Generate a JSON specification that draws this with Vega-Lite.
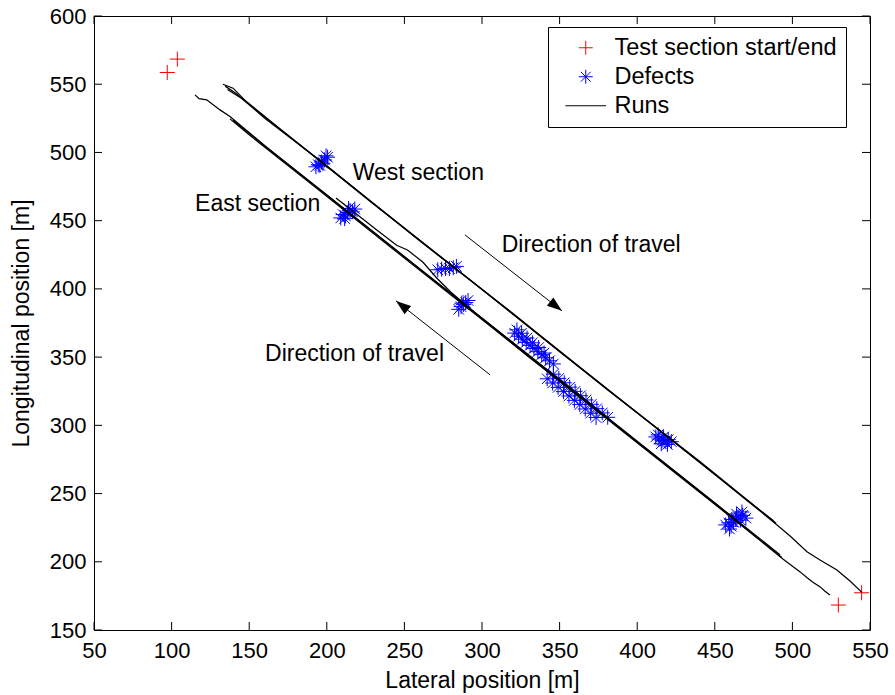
{
  "$schema": "https://vega.github.io/schema/vega-lite/v6.json",
  "width": 776,
  "height": 614,
  "autosize": {"type": "none"},
  "padding": {"left": 94, "top": 16, "right": 25, "bottom": 65},
  "background": "white",
  "config": {
    "font": "Liberation Sans",
    "view": {"stroke": "black", "strokeWidth": 1},
    "axis": {
      "domain": false,
      "ticks": false,
      "tickSize": 0,
      "grid": false,
      "labelFlush": false,
      "labelOverlap": false,
      "labelFont": "Liberation Sans",
      "labelFontSize": 22,
      "labelColor": "black",
      "titleFont": "Liberation Sans",
      "titleFontSize": 23,
      "titleFontWeight": "normal",
      "titleColor": "black"
    },
    "legend": {
      "labelFont": "Liberation Sans",
      "labelFontSize": 23.5,
      "labelColor": "black",
      "labelLimit": 400
    }
  },
  "datasets": {
    "xticks": [
      {"lat": 50}, {"lat": 100}, {"lat": 150}, {"lat": 200}, {"lat": 250}, {"lat": 300},
      {"lat": 350}, {"lat": 400}, {"lat": 450}, {"lat": 500}, {"lat": 550}
    ],
    "yticks": [
      {"lon": 150}, {"lon": 200}, {"lon": 250}, {"lon": 300}, {"lon": 350},
      {"lon": 400}, {"lon": 450}, {"lon": 500}, {"lon": 550}, {"lon": 600}
    ],
    "markers": [
      {"lat": 97.2, "lon": 558.6, "kind": "Test section start/end"},
      {"lat": 103.7, "lon": 568.4, "kind": "Test section start/end"},
      {"lat": 529.6, "lon": 168.3, "kind": "Test section start/end"},
      {"lat": 544.6, "lon": 177.3, "kind": "Test section start/end"},
      {"lat": 193.0, "lon": 489.5, "kind": "Defects"},
      {"lat": 194.5, "lon": 491.0, "kind": "Defects"},
      {"lat": 196.5, "lon": 493.0, "kind": "Defects"},
      {"lat": 198.5, "lon": 494.5, "kind": "Defects"},
      {"lat": 200.5, "lon": 496.5, "kind": "Defects"},
      {"lat": 197.5, "lon": 492.0, "kind": "Defects"},
      {"lat": 195.5, "lon": 490.5, "kind": "Defects"},
      {"lat": 199.5, "lon": 497.5, "kind": "Defects"},
      {"lat": 209.0, "lon": 452.0, "kind": "Defects"},
      {"lat": 210.5, "lon": 454.5, "kind": "Defects"},
      {"lat": 212.0, "lon": 453.5, "kind": "Defects"},
      {"lat": 213.5, "lon": 456.0, "kind": "Defects"},
      {"lat": 215.0, "lon": 457.5, "kind": "Defects"},
      {"lat": 216.5, "lon": 456.5, "kind": "Defects"},
      {"lat": 218.0, "lon": 458.5, "kind": "Defects"},
      {"lat": 211.5, "lon": 451.5, "kind": "Defects"},
      {"lat": 214.0, "lon": 459.0, "kind": "Defects"},
      {"lat": 271.5, "lon": 414.0, "kind": "Defects"},
      {"lat": 274.0, "lon": 414.5, "kind": "Defects"},
      {"lat": 276.5, "lon": 415.0, "kind": "Defects"},
      {"lat": 279.0, "lon": 415.0, "kind": "Defects"},
      {"lat": 281.5, "lon": 415.5, "kind": "Defects"},
      {"lat": 283.5, "lon": 416.5, "kind": "Defects"},
      {"lat": 285.0, "lon": 385.0, "kind": "Defects"},
      {"lat": 286.5, "lon": 387.0, "kind": "Defects"},
      {"lat": 288.0, "lon": 388.5, "kind": "Defects"},
      {"lat": 289.5, "lon": 390.0, "kind": "Defects"},
      {"lat": 291.0, "lon": 391.5, "kind": "Defects"},
      {"lat": 287.0, "lon": 389.5, "kind": "Defects"},
      {"lat": 321.0, "lon": 367.6, "kind": "Defects"},
      {"lat": 323.5, "lon": 365.3, "kind": "Defects"},
      {"lat": 326.0, "lon": 363.1, "kind": "Defects"},
      {"lat": 328.5, "lon": 360.8, "kind": "Defects"},
      {"lat": 331.0, "lon": 358.6, "kind": "Defects"},
      {"lat": 333.5, "lon": 356.3, "kind": "Defects"},
      {"lat": 336.0, "lon": 354.0, "kind": "Defects"},
      {"lat": 338.5, "lon": 351.8, "kind": "Defects"},
      {"lat": 341.0, "lon": 349.5, "kind": "Defects"},
      {"lat": 343.5, "lon": 347.3, "kind": "Defects"},
      {"lat": 346.0, "lon": 345.0, "kind": "Defects"},
      {"lat": 322.5, "lon": 370.0, "kind": "Defects"},
      {"lat": 325.5, "lon": 367.5, "kind": "Defects"},
      {"lat": 329.0, "lon": 364.0, "kind": "Defects"},
      {"lat": 332.5, "lon": 360.5, "kind": "Defects"},
      {"lat": 336.5, "lon": 357.0, "kind": "Defects"},
      {"lat": 340.0, "lon": 353.0, "kind": "Defects"},
      {"lat": 346.0, "lon": 337.5, "kind": "Defects"},
      {"lat": 349.5, "lon": 334.4, "kind": "Defects"},
      {"lat": 353.0, "lon": 331.2, "kind": "Defects"},
      {"lat": 356.5, "lon": 328.0, "kind": "Defects"},
      {"lat": 360.0, "lon": 324.9, "kind": "Defects"},
      {"lat": 363.5, "lon": 321.7, "kind": "Defects"},
      {"lat": 367.0, "lon": 318.6, "kind": "Defects"},
      {"lat": 370.5, "lon": 315.4, "kind": "Defects"},
      {"lat": 374.0, "lon": 312.2, "kind": "Defects"},
      {"lat": 377.5, "lon": 309.1, "kind": "Defects"},
      {"lat": 381.0, "lon": 305.9, "kind": "Defects"},
      {"lat": 342.0, "lon": 334.1, "kind": "Defects"},
      {"lat": 345.5, "lon": 331.0, "kind": "Defects"},
      {"lat": 349.0, "lon": 327.8, "kind": "Defects"},
      {"lat": 352.5, "lon": 324.7, "kind": "Defects"},
      {"lat": 356.0, "lon": 321.5, "kind": "Defects"},
      {"lat": 359.5, "lon": 318.3, "kind": "Defects"},
      {"lat": 363.0, "lon": 315.2, "kind": "Defects"},
      {"lat": 366.5, "lon": 312.0, "kind": "Defects"},
      {"lat": 370.0, "lon": 308.9, "kind": "Defects"},
      {"lat": 373.5, "lon": 305.7, "kind": "Defects"},
      {"lat": 412.0, "lon": 291.5, "kind": "Defects"},
      {"lat": 414.0, "lon": 290.0, "kind": "Defects"},
      {"lat": 416.0, "lon": 289.0, "kind": "Defects"},
      {"lat": 418.0, "lon": 288.5, "kind": "Defects"},
      {"lat": 420.0, "lon": 289.5, "kind": "Defects"},
      {"lat": 422.0, "lon": 288.0, "kind": "Defects"},
      {"lat": 417.0, "lon": 291.5, "kind": "Defects"},
      {"lat": 415.5, "lon": 286.5, "kind": "Defects"},
      {"lat": 419.5, "lon": 286.0, "kind": "Defects"},
      {"lat": 413.5, "lon": 293.0, "kind": "Defects"},
      {"lat": 457.0, "lon": 227.0, "kind": "Defects"},
      {"lat": 459.0, "lon": 228.5, "kind": "Defects"},
      {"lat": 460.5, "lon": 226.0, "kind": "Defects"},
      {"lat": 462.0, "lon": 229.0, "kind": "Defects"},
      {"lat": 463.5, "lon": 231.5, "kind": "Defects"},
      {"lat": 465.0, "lon": 233.0, "kind": "Defects"},
      {"lat": 466.5, "lon": 230.5, "kind": "Defects"},
      {"lat": 468.0, "lon": 234.0, "kind": "Defects"},
      {"lat": 461.0, "lon": 231.0, "kind": "Defects"},
      {"lat": 464.0, "lon": 235.0, "kind": "Defects"},
      {"lat": 467.5, "lon": 236.5, "kind": "Defects"},
      {"lat": 459.5, "lon": 224.0, "kind": "Defects"},
      {"lat": 470.0, "lon": 232.0, "kind": "Defects"}
    ],
    "runs": [
      {"run": "W1", "seq": 1, "lat": 133.1, "lon": 550.0},
      {"run": "W1", "seq": 2, "lat": 139.6, "lon": 547.1},
      {"run": "W1", "seq": 3, "lat": 147.0, "lon": 538.5},
      {"run": "W1", "seq": 4, "lat": 170.0, "lon": 517.0},
      {"run": "W1", "seq": 5, "lat": 200.0, "lon": 489.8},
      {"run": "W1", "seq": 6, "lat": 250.0, "lon": 444.6},
      {"run": "W1", "seq": 7, "lat": 300.0, "lon": 399.5},
      {"run": "W1", "seq": 8, "lat": 350.0, "lon": 354.4},
      {"run": "W1", "seq": 9, "lat": 400.0, "lon": 309.3},
      {"run": "W1", "seq": 10, "lat": 450.0, "lon": 264.2},
      {"run": "W1", "seq": 11, "lat": 488.0, "lon": 229.0},
      {"run": "W1", "seq": 12, "lat": 498.5, "lon": 218.9},
      {"run": "W1", "seq": 13, "lat": 509.4, "lon": 207.4},
      {"run": "W1", "seq": 14, "lat": 517.8, "lon": 201.3},
      {"run": "W1", "seq": 15, "lat": 528.7, "lon": 194.0},
      {"run": "W1", "seq": 16, "lat": 537.1, "lon": 185.9},
      {"run": "W1", "seq": 17, "lat": 544.8, "lon": 177.6},
      {"run": "W2", "seq": 1, "lat": 134.5, "lon": 548.6},
      {"run": "W2", "seq": 2, "lat": 142.0, "lon": 542.8},
      {"run": "W2", "seq": 3, "lat": 160.0, "lon": 525.0},
      {"run": "W2", "seq": 4, "lat": 200.0, "lon": 490.3},
      {"run": "W2", "seq": 5, "lat": 260.0, "lon": 435.0},
      {"run": "W2", "seq": 6, "lat": 320.0, "lon": 382.0},
      {"run": "W2", "seq": 7, "lat": 380.0, "lon": 326.8},
      {"run": "W2", "seq": 8, "lat": 440.0, "lon": 273.8},
      {"run": "W2", "seq": 9, "lat": 489.5, "lon": 228.2},
      {"run": "W3", "seq": 1, "lat": 136.0, "lon": 546.2},
      {"run": "W3", "seq": 2, "lat": 145.0, "lon": 539.8},
      {"run": "W3", "seq": 3, "lat": 175.0, "lon": 512.6},
      {"run": "W3", "seq": 4, "lat": 230.0, "lon": 462.2},
      {"run": "W3", "seq": 5, "lat": 290.0, "lon": 408.8},
      {"run": "W3", "seq": 6, "lat": 350.0, "lon": 354.0},
      {"run": "W3", "seq": 7, "lat": 410.0, "lon": 300.3},
      {"run": "W3", "seq": 8, "lat": 470.0, "lon": 245.8},
      {"run": "W3", "seq": 9, "lat": 488.0, "lon": 229.8},
      {"run": "E1", "seq": 1, "lat": 115.1, "lon": 542.2},
      {"run": "E1", "seq": 2, "lat": 117.7, "lon": 539.4},
      {"run": "E1", "seq": 3, "lat": 122.6, "lon": 538.6},
      {"run": "E1", "seq": 4, "lat": 131.2, "lon": 531.2},
      {"run": "E1", "seq": 5, "lat": 137.6, "lon": 526.3},
      {"run": "E1", "seq": 6, "lat": 160.0, "lon": 505.0},
      {"run": "E1", "seq": 7, "lat": 200.0, "lon": 468.8},
      {"run": "E1", "seq": 8, "lat": 250.0, "lon": 423.6},
      {"run": "E1", "seq": 9, "lat": 300.0, "lon": 378.5},
      {"run": "E1", "seq": 10, "lat": 350.0, "lon": 333.4},
      {"run": "E1", "seq": 11, "lat": 400.0, "lon": 288.0},
      {"run": "E1", "seq": 12, "lat": 450.0, "lon": 243.0},
      {"run": "E1", "seq": 13, "lat": 494.1, "lon": 201.8},
      {"run": "E1", "seq": 14, "lat": 500.5, "lon": 196.4},
      {"run": "E1", "seq": 15, "lat": 505.0, "lon": 192.6},
      {"run": "E1", "seq": 16, "lat": 509.5, "lon": 188.3},
      {"run": "E1", "seq": 17, "lat": 513.0, "lon": 185.2},
      {"run": "E1", "seq": 18, "lat": 517.9, "lon": 181.6},
      {"run": "E1", "seq": 19, "lat": 521.0, "lon": 178.4},
      {"run": "E1", "seq": 20, "lat": 524.2, "lon": 175.7},
      {"run": "E2", "seq": 1, "lat": 137.6, "lon": 524.6},
      {"run": "E2", "seq": 2, "lat": 150.0, "lon": 512.9},
      {"run": "E2", "seq": 3, "lat": 190.0, "lon": 476.8},
      {"run": "E2", "seq": 4, "lat": 240.0, "lon": 431.6},
      {"run": "E2", "seq": 5, "lat": 290.0, "lon": 386.6},
      {"run": "E2", "seq": 6, "lat": 340.0, "lon": 341.4},
      {"run": "E2", "seq": 7, "lat": 390.0, "lon": 296.2},
      {"run": "E2", "seq": 8, "lat": 440.0, "lon": 251.2},
      {"run": "E2", "seq": 9, "lat": 480.0, "lon": 215.0},
      {"run": "E2", "seq": 10, "lat": 493.0, "lon": 203.3},
      {"run": "E3", "seq": 1, "lat": 139.5, "lon": 523.6},
      {"run": "E3", "seq": 2, "lat": 165.0, "lon": 500.4},
      {"run": "E3", "seq": 3, "lat": 210.0, "lon": 459.8},
      {"run": "E3", "seq": 4, "lat": 270.0, "lon": 405.6},
      {"run": "E3", "seq": 5, "lat": 330.0, "lon": 351.5},
      {"run": "E3", "seq": 6, "lat": 380.0, "lon": 306.5},
      {"run": "E3", "seq": 7, "lat": 430.0, "lon": 261.2},
      {"run": "E3", "seq": 8, "lat": 470.0, "lon": 225.1},
      {"run": "E3", "seq": 9, "lat": 492.0, "lon": 205.2},
      {"run": "E4", "seq": 1, "lat": 205.9, "lon": 466.6},
      {"run": "E4", "seq": 2, "lat": 215.0, "lon": 458.5},
      {"run": "E4", "seq": 3, "lat": 231.8, "lon": 443.5},
      {"run": "E4", "seq": 4, "lat": 245.0, "lon": 432.0},
      {"run": "E4", "seq": 5, "lat": 252.0, "lon": 428.5},
      {"run": "E4", "seq": 6, "lat": 262.0, "lon": 419.5},
      {"run": "E4", "seq": 7, "lat": 270.8, "lon": 408.0},
      {"run": "E4", "seq": 8, "lat": 280.0, "lon": 397.5},
      {"run": "E4", "seq": 9, "lat": 296.6, "lon": 381.5},
      {"run": "E4", "seq": 10, "lat": 312.0, "lon": 367.0},
      {"run": "E4", "seq": 11, "lat": 330.0, "lon": 350.2},
      {"run": "E4", "seq": 12, "lat": 360.0, "lon": 323.5},
      {"run": "E4", "seq": 13, "lat": 420.0, "lon": 269.8},
      {"run": "E4", "seq": 14, "lat": 470.0, "lon": 224.4}
    ],
    "arrows": [
      {"arrow": "southbound", "end": "tail", "lat": 289.0, "lon": 439.6},
      {"arrow": "southbound", "end": "tip", "lat": 351.5, "lon": 383.9},
      {"arrow": "northbound", "end": "tail", "lat": 305.2, "lon": 337.0},
      {"arrow": "northbound", "end": "tip", "lat": 244.6, "lon": 391.2}
    ],
    "notes": [
      {"note": "West section", "lat": 216.7, "lon": 485.0},
      {"note": "East section", "lat": 115.1, "lon": 462.5},
      {"note": "Direction of travel", "lat": 312.7, "lon": 432.5},
      {"note": "Direction of travel", "lat": 160.2, "lon": 352.2}
    ]
  },
  "resolve": {"axis": {"x": "independent", "y": "independent"}},
  "layer": [
    {
      "data": {"name": "markers"},
      "mark": {"type": "point", "filled": false, "strokeWidth": 1, "size": 225, "opacity": 1},
      "encoding": {
        "x": {
          "field": "lat", "type": "quantitative",
          "scale": {"domain": [50, 550], "nice": false, "zero": false},
          "axis": {
            "orient": "bottom", "values": [50, 100, 150, 200, 250, 300, 350, 400, 450, 500, 550],
            "title": "Lateral position [m]", "labelPadding": 10, "titlePadding": 8
          }
        },
        "y": {
          "field": "lon", "type": "quantitative",
          "scale": {"domain": [150, 600], "nice": false, "zero": false},
          "axis": {
            "orient": "left", "values": [150, 200, 250, 300, 350, 400, 450, 500, 550, 600],
            "title": "Longitudinal position [m]", "labelPadding": 8, "titlePadding": 16
          }
        },
        "color": {
          "field": "kind", "type": "nominal",
          "scale": {
            "domain": ["Test section start/end", "Defects", "Runs"],
            "range": ["#ff0000", "#0000ff", "#000000"]
          },
          "legend": {
            "title": null,
            "orient": "none",
            "legendX": 454,
            "legendY": 11,
            "padding": 9,
            "strokeColor": "black",
            "fillColor": "white",
            "symbolSize": 196,
            "symbolStrokeWidth": 1,
            "symbolOffset": 17,
            "labelOffset": 17,
            "rowPadding": 4
          }
        },
        "shape": {
          "field": "kind", "type": "nominal",
          "scale": {
            "domain": ["Test section start/end", "Defects", "Runs"],
            "range": [
              "M-1,0H1M0,-1V1",
              "M-1,0H1M0,-1V1M-0.7,-0.7L0.7,0.7M-0.7,0.7L0.7,-0.7",
              "M-2.9,0H2.9"
            ]
          },
          "legend": {
            "title": null,
            "orient": "none",
            "legendX": 454,
            "legendY": 11,
            "padding": 9,
            "strokeColor": "black",
            "fillColor": "white",
            "symbolSize": 196,
            "symbolStrokeWidth": 1,
            "symbolOffset": 17,
            "labelOffset": 17,
            "rowPadding": 4
          }
        }
      }
    },
    {
      "data": {"name": "runs"},
      "mark": {"type": "line", "color": "black", "strokeWidth": 1.25},
      "encoding": {
        "x": {"field": "lat", "type": "quantitative", "axis": null},
        "y": {"field": "lon", "type": "quantitative", "axis": null},
        "detail": {"field": "run", "type": "nominal"},
        "order": {"field": "seq", "type": "quantitative"}
      }
    },
    {
      "data": {"name": "xticks"},
      "mark": {"type": "tick", "orient": "vertical", "size": 8, "thickness": 1, "color": "black", "opacity": 1, "yOffset": -4},
      "encoding": {
        "x": {"field": "lat", "type": "quantitative", "axis": null},
        "y": {"datum": 150, "type": "quantitative", "axis": null}
      }
    },
    {
      "data": {"name": "xticks"},
      "mark": {"type": "tick", "orient": "vertical", "size": 8, "thickness": 1, "color": "black", "opacity": 1, "yOffset": 4},
      "encoding": {
        "x": {"field": "lat", "type": "quantitative", "axis": null},
        "y": {"datum": 600, "type": "quantitative", "axis": null}
      }
    },
    {
      "data": {"name": "yticks"},
      "mark": {"type": "tick", "orient": "horizontal", "size": 8, "thickness": 1, "color": "black", "opacity": 1, "xOffset": 4},
      "encoding": {
        "x": {"datum": 50, "type": "quantitative", "axis": null},
        "y": {"field": "lon", "type": "quantitative", "axis": null}
      }
    },
    {
      "data": {"name": "yticks"},
      "mark": {"type": "tick", "orient": "horizontal", "size": 8, "thickness": 1, "color": "black", "opacity": 1, "xOffset": -4},
      "encoding": {
        "x": {"datum": 550, "type": "quantitative", "axis": null},
        "y": {"field": "lon", "type": "quantitative", "axis": null}
      }
    },
    {
      "data": {"name": "arrows"},
      "mark": {"type": "line", "color": "black", "strokeWidth": 1},
      "encoding": {
        "x": {"field": "lat", "type": "quantitative", "axis": null},
        "y": {"field": "lon", "type": "quantitative", "axis": null},
        "detail": {"field": "arrow", "type": "nominal"}
      }
    },
    {
      "data": {"name": "arrows"},
      "transform": [{"filter": "datum.arrow === 'southbound' && datum.end === 'tip'"}],
      "mark": {"type": "point", "shape": "M0,0L-0.35,1L0.35,1Z", "filled": true, "color": "black", "opacity": 1, "size": 900, "angle": 128},
      "encoding": {
        "x": {"field": "lat", "type": "quantitative", "axis": null},
        "y": {"field": "lon", "type": "quantitative", "axis": null}
      }
    },
    {
      "data": {"name": "arrows"},
      "transform": [{"filter": "datum.arrow === 'northbound' && datum.end === 'tip'"}],
      "mark": {"type": "point", "shape": "M0,0L-0.35,1L0.35,1Z", "filled": true, "color": "black", "opacity": 1, "size": 900, "angle": 308},
      "encoding": {
        "x": {"field": "lat", "type": "quantitative", "axis": null},
        "y": {"field": "lon", "type": "quantitative", "axis": null}
      }
    },
    {
      "data": {"name": "notes"},
      "mark": {"type": "text", "align": "left", "baseline": "middle", "font": "Liberation Sans", "fontSize": 23, "color": "black"},
      "encoding": {
        "x": {"field": "lat", "type": "quantitative", "axis": null},
        "y": {"field": "lon", "type": "quantitative", "axis": null},
        "text": {"field": "note", "type": "nominal"}
      }
    }
  ]
}
